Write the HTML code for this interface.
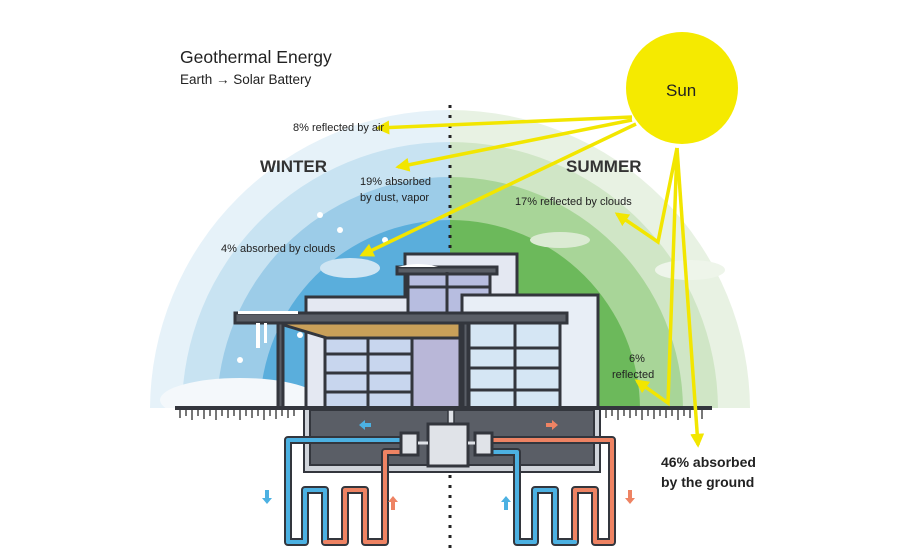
<!DOCTYPE html>
<html><head><meta charset="utf-8"><style>
html,body{margin:0;padding:0;background:#fff;width:900px;height:550px;overflow:hidden}
svg{display:block;font-family:"Liberation Sans",sans-serif}
</style></head><body>
<svg width="900" height="550" viewBox="0 0 900 550" xmlns="http://www.w3.org/2000/svg">
<defs>
<clipPath id="L"><rect x="0" y="0" width="450" height="408"/></clipPath>
<clipPath id="R"><rect x="450" y="0" width="450" height="408"/></clipPath>
<marker id="ah" viewBox="0 0 10 10" refX="8" refY="5" markerWidth="4" markerHeight="4" orient="auto"><path d="M0,0L10,5L0,10z" fill="#f2e600"/></marker>
</defs>
<g clip-path="url(#L)">
<circle cx="450" cy="410" r="300" fill="#e6f2f9"/>
<circle cx="450" cy="410" r="268" fill="#c8e3f2"/>
<circle cx="450" cy="410" r="233" fill="#9ccce8"/>
<circle cx="450" cy="410" r="190" fill="#5aaedc"/>
<ellipse cx="240" cy="400" rx="80" ry="22" fill="#f4f8fb"/>
<ellipse cx="350" cy="268" rx="30" ry="10" fill="#cfe5f3"/>
<circle cx="320" cy="215" r="3" fill="#fff"/><circle cx="340" cy="230" r="3" fill="#fff"/><circle cx="385" cy="240" r="3" fill="#fff"/><circle cx="240" cy="360" r="3" fill="#fff"/><circle cx="300" cy="335" r="3" fill="#fff"/>
</g>
<g clip-path="url(#R)">
<circle cx="450" cy="410" r="300" fill="#e8f2e3"/>
<circle cx="450" cy="410" r="268" fill="#d0e6c6"/>
<circle cx="450" cy="410" r="233" fill="#a8d598"/>
<circle cx="450" cy="410" r="190" fill="#6cb95b"/>
<ellipse cx="560" cy="240" rx="30" ry="8" fill="#dbebd3"/>
<ellipse cx="690" cy="270" rx="35" ry="10" fill="#eef5ea"/>
</g>
<line x1="450" y1="105" x2="450" y2="549" stroke="#222" stroke-width="3" stroke-dasharray="3,7"/>
<circle cx="682" cy="88" r="56" fill="#f5ea00"/>
<g stroke="#33363d" stroke-width="3">
<rect x="405" y="254" width="112" height="45" fill="#e4e8f2"/>
<rect x="306" y="297" width="150" height="16" fill="#e4e8f2"/>
<rect x="408" y="272" width="82" height="42" fill="#b7bde0"/>
<rect x="397" y="267" width="100" height="7" fill="#5a5e66"/>
<rect x="462" y="295" width="136" height="113" fill="#e8eef6"/>
<rect x="306" y="320" width="154" height="88" fill="#e4e8f2"/>
<rect x="325" y="338" width="87" height="70" fill="#c8d6ee"/>
<rect x="412" y="338" width="48" height="70" fill="#b9b7d8"/>
<rect x="469" y="322" width="91" height="86" fill="#d5e6f4"/>
<path d="M277,323H460V338H327Z" fill="#c9a059"/>
<rect x="235" y="313" width="332" height="10" fill="#5a5e66"/>
<rect x="278" y="323" width="5" height="85" fill="#5a5e66"/>
<rect x="463" y="323" width="5" height="85" fill="#5a5e66"/>
</g>
<g stroke="#33363d" stroke-width="3">
<line x1="368" y1="338" x2="368" y2="408"/><line x1="325" y1="354" x2="412" y2="354"/><line x1="325" y1="373" x2="412" y2="373"/><line x1="325" y1="392" x2="412" y2="392"/>
<line x1="515" y1="322" x2="515" y2="408"/><line x1="469" y1="348" x2="560" y2="348"/><line x1="469" y1="368" x2="560" y2="368"/><line x1="469" y1="390" x2="560" y2="390"/>
<line x1="447" y1="272" x2="447" y2="314"/><line x1="408" y1="287" x2="490" y2="287"/>
</g>
<path d="M238,311h60v3h-60z" fill="#fff"/><rect x="256" y="323" width="4" height="25" fill="#fff"/><rect x="264" y="323" width="3" height="20" fill="#fff"/>
<path d="M398,267q20,-6 40,0z" fill="#fff"/>
<rect x="175" y="406" width="537" height="4" fill="#33363d"/>
<path d="M180,410v8M186,410v6M192,410v10M198,410v6M204,410v9M210,410v6M216,410v10M222,410v6M228,410v8M234,410v6M240,410v10M246,410v6M252,410v8M258,410v6M264,410v10M270,410v6M276,410v9M282,410v6M288,410v8M294,410v6M606,410v8M612,410v6M618,410v10M624,410v6M630,410v8M636,410v6M642,410v10M648,410v6M654,410v9M660,410v6M666,410v8M672,410v6M678,410v10M684,410v6M690,410v8M696,410v6M702,410v9" stroke="#777" stroke-width="2"/>
<rect x="304" y="409" width="296" height="63" fill="#d0d4da" stroke="#33363d" stroke-width="2"/>
<rect x="310" y="410" width="284" height="55" fill="#5a5e66" stroke="#33363d" stroke-width="2"/>
<rect x="448" y="410" width="6" height="14" fill="#e0e3e8" stroke="#33363d" stroke-width="1.5"/>
<path d="M371,423h-6v-3l-6,5l6,5v-3h6z" fill="#4cb1e2"/>
<path d="M546,423h6v-3l6,5l-6,5v-3h-6z" fill="#ee8363"/>
<g fill="none" stroke-linejoin="round" stroke-linecap="round">
<path d="M400,440H288V542H305V490H325V542H345V490H365V542H385V452H400" stroke="#33363d" stroke-width="8"/>
<path d="M400,440H288V542H305V490H325V542" stroke="#4cb1e2" stroke-width="4"/>
<path d="M325,542H345V490H365V542H385V452H400" stroke="#ee8363" stroke-width="4"/>
<path d="M492,440H612V542H595V490H575V542H555V490H535V542H517V452H492" stroke="#33363d" stroke-width="8"/>
<path d="M492,440H612V542H595V490H575V542" stroke="#ee8363" stroke-width="4"/>
<path d="M575,542H555V490H535V542H517V452H492" stroke="#4cb1e2" stroke-width="4"/>
</g>
<rect x="428" y="424" width="40" height="42" fill="#e0e3e8" stroke="#33363d" stroke-width="3"/>
<rect x="401" y="433" width="17" height="22" fill="#e0e3e8" stroke="#33363d" stroke-width="3"/>
<rect x="475" y="433" width="17" height="22" fill="#e0e3e8" stroke="#33363d" stroke-width="3"/>
<line x1="418" y1="443" x2="428" y2="443" stroke="#e0e3e8" stroke-width="3"/><line x1="468" y1="443" x2="475" y2="443" stroke="#e0e3e8" stroke-width="3"/>
<path d="M265,490h4v8h3l-5,6l-5,-6h3z" fill="#4cb1e2"/>
<path d="M391,510h4v-8h3l-5,-6l-5,6h3z" fill="#ee8363"/>
<path d="M504,510h4v-8h3l-5,-6l-5,6h3z" fill="#4cb1e2"/>
<path d="M628,490h4v8h3l-5,6l-5,-6h3z" fill="#ee8363"/>
<g stroke="#f2e600" stroke-width="3.5" fill="none" marker-end="url(#ah)">
<line x1="632" y1="117" x2="378" y2="128"/>
<line x1="632" y1="120" x2="398" y2="167"/>
<line x1="636" y1="124" x2="362" y2="255"/>
<polyline points="677,148 658,242 617,214"/>
<polyline points="677,148 668,403 637,381"/>
<line x1="677" y1="148" x2="698" y2="445"/>
</g>
<g fill="#222">
<text x="180" y="63" font-size="17.5">Geothermal Energy</text>
<text x="180" y="84" font-size="13.5">Earth → Solar Battery</text>
<text x="293" y="131" font-size="11">8% reflected by air</text>
<text x="260" y="172" font-size="17" font-weight="bold" fill="#333">WINTER</text>
<text x="566" y="172" font-size="17" font-weight="bold" fill="#333">SUMMER</text>
<text x="360" y="185" font-size="11">19% absorbed</text>
<text x="360" y="201" font-size="11">by dust, vapor</text>
<text x="515" y="205" font-size="11">17% reflected by clouds</text>
<text x="221" y="252" font-size="11">4% absorbed by clouds</text>
<text x="629" y="362" font-size="11">6%</text>
<text x="612" y="378" font-size="11">reflected</text>
<text x="661" y="467" font-size="14" font-weight="bold">46% absorbed</text>
<text x="661" y="487" font-size="14" font-weight="bold">by the ground</text>
<text x="666" y="96" font-size="17">Sun</text>
</g>
</svg>
</body></html>
